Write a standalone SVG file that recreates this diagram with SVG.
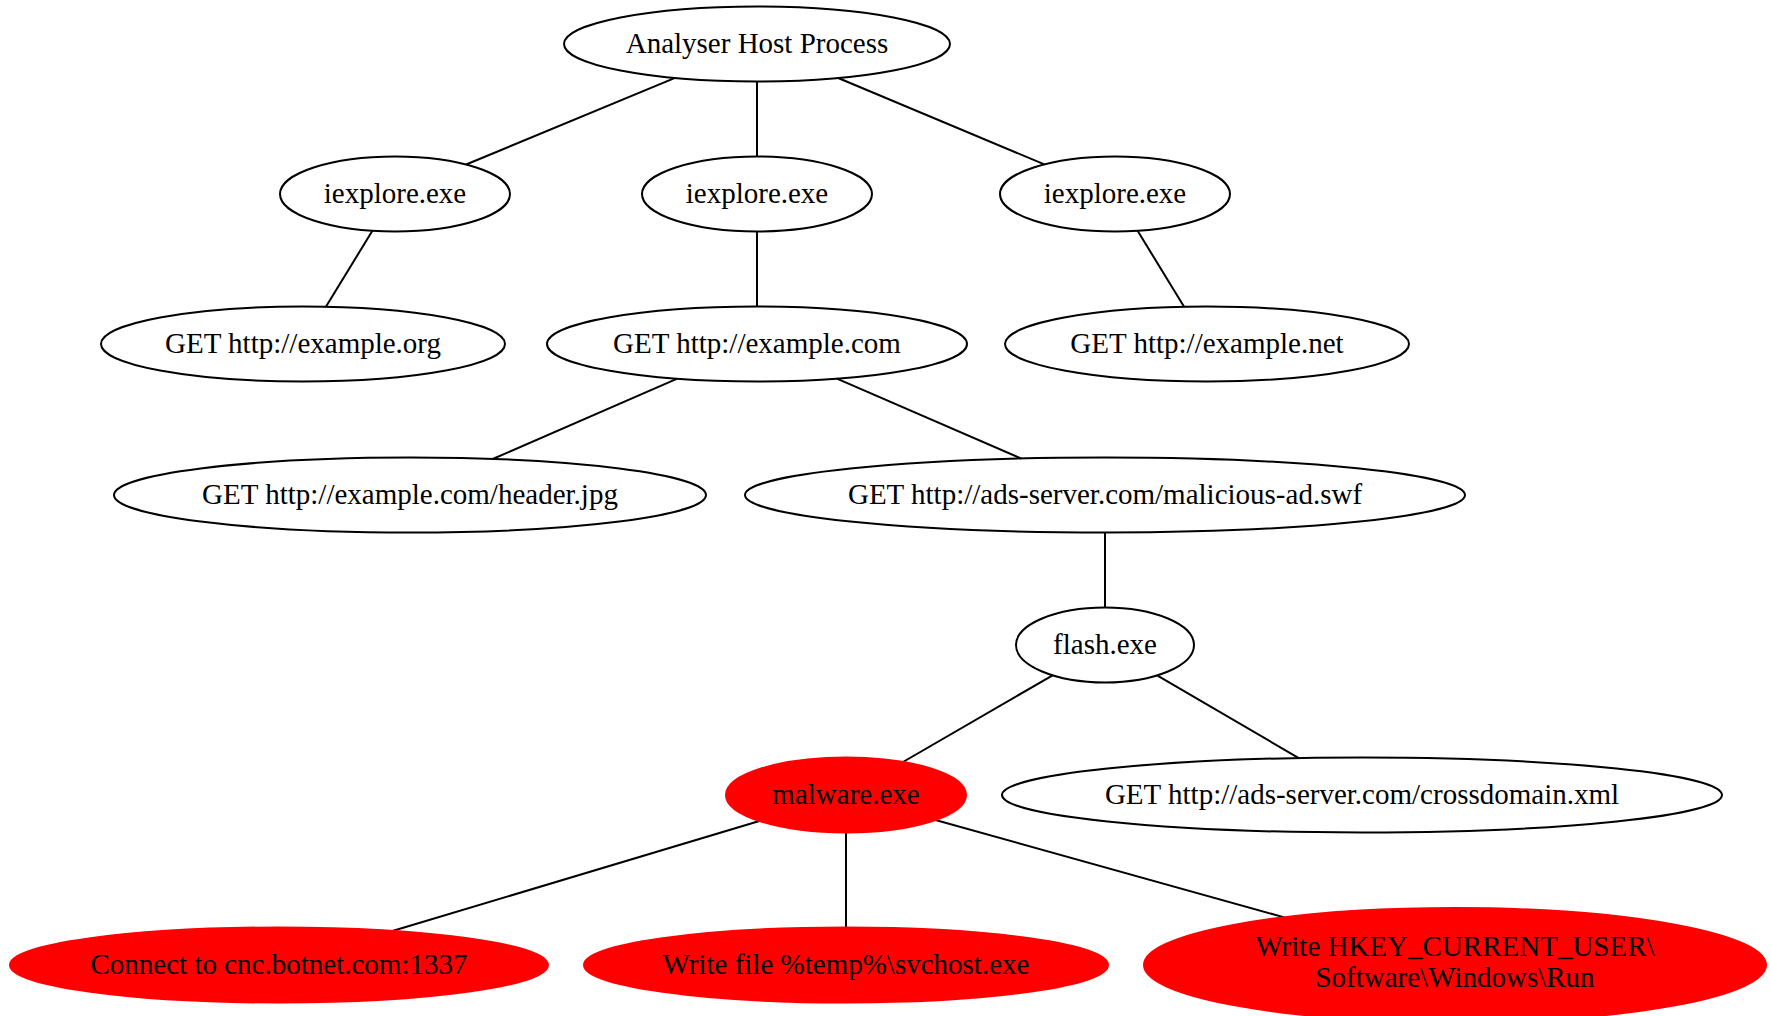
<svg xmlns="http://www.w3.org/2000/svg" width="1771" height="1016" viewBox="0 0 1771 1016">
<style>
  .n ellipse { fill: none; stroke: #000; stroke-width: 2; }
  .r ellipse { fill: #ff0000; stroke: #ff0000; stroke-width: 2; }
  text { font-family: "Liberation Serif", "Times New Roman", serif; font-size: 29px; text-anchor: middle; fill: #000; }
  #edges line { stroke: #000; stroke-width: 2; }
</style>
<rect width="1771" height="1016" fill="#fff"/>
<g id="edges">
  <line x1="675.1" y1="77.9" x2="466.1" y2="164.5"/>
  <line x1="757" y1="81.5" x2="757" y2="156.5"/>
  <line x1="838.2" y1="78" x2="1044.4" y2="164.4"/>
  <line x1="372.4" y1="230.8" x2="325.9" y2="306.7"/>
  <line x1="757" y1="231.5" x2="757" y2="306.5"/>
  <line x1="1137.6" y1="230.8" x2="1184.1" y2="306.7"/>
  <line x1="677.3" y1="378.7" x2="492.7" y2="459"/>
  <line x1="836.9" y1="378.7" x2="1021" y2="458.5"/>
  <line x1="1105" y1="532.5" x2="1105" y2="607.5"/>
  <line x1="1052.6" y1="675.3" x2="903" y2="762"/>
  <line x1="1157.1" y1="675.4" x2="1298.8" y2="758.1"/>
  <line x1="759.4" y1="821" x2="392.4" y2="931"/>
  <line x1="846" y1="832.5" x2="846" y2="927.5"/>
  <line x1="935.5" y1="820" x2="1284.3" y2="917.4"/>
</g>
<g id="analyser" class="n"><ellipse cx="757" cy="44" rx="193" ry="37.5"/><text x="757" y="53">Analyser Host Process</text></g>
<g id="iexplore1" class="n"><ellipse cx="395" cy="194" rx="115" ry="37.5"/><text x="395" y="203">iexplore.exe</text></g>
<g id="iexplore2" class="n"><ellipse cx="757" cy="194" rx="115" ry="37.5"/><text x="757" y="203">iexplore.exe</text></g>
<g id="iexplore3" class="n"><ellipse cx="1115" cy="194" rx="115" ry="37.5"/><text x="1115" y="203">iexplore.exe</text></g>
<g id="get_org" class="n"><ellipse cx="303" cy="344" rx="202" ry="37.5"/><text x="303" y="353">GET http://example.org</text></g>
<g id="get_com" class="n"><ellipse cx="757" cy="344" rx="210" ry="37.5"/><text x="757" y="353">GET http://example.com</text></g>
<g id="get_net" class="n"><ellipse cx="1207" cy="344" rx="202" ry="37.5"/><text x="1207" y="353">GET http://example.net</text></g>
<g id="get_header" class="n"><ellipse cx="410" cy="495" rx="296" ry="37.5"/><text x="410" y="504">GET http://example.com/header.jpg</text></g>
<g id="get_swf" class="n"><ellipse cx="1105" cy="495" rx="360" ry="37.5"/><text x="1105" y="504">GET http://ads-server.com/malicious-ad.swf</text></g>
<g id="flash" class="n"><ellipse cx="1105" cy="645" rx="89" ry="37.5"/><text x="1105" y="654">flash.exe</text></g>
<g id="malware" class="r"><ellipse cx="846" cy="795" rx="120" ry="37.5"/><text x="846" y="804">malware.exe</text></g>
<g id="get_xml" class="n"><ellipse cx="1362" cy="795" rx="360" ry="37.5"/><text x="1362" y="804">GET http://ads-server.com/crossdomain.xml</text></g>
<g id="connect" class="r"><ellipse cx="279" cy="965" rx="269" ry="37.5"/><text x="279" y="974">Connect to cnc.botnet.com:1337</text></g>
<g id="writefile" class="r"><ellipse cx="846" cy="965" rx="262" ry="37.5"/><text x="846" y="974">Write file %temp%\svchost.exe</text></g>
<g id="writereg" class="r"><ellipse cx="1455" cy="965" rx="311" ry="57"/><text x="1455" y="956">Write HKEY_CURRENT_USER\</text><text x="1455" y="987">Software\Windows\Run</text></g>
</svg>
